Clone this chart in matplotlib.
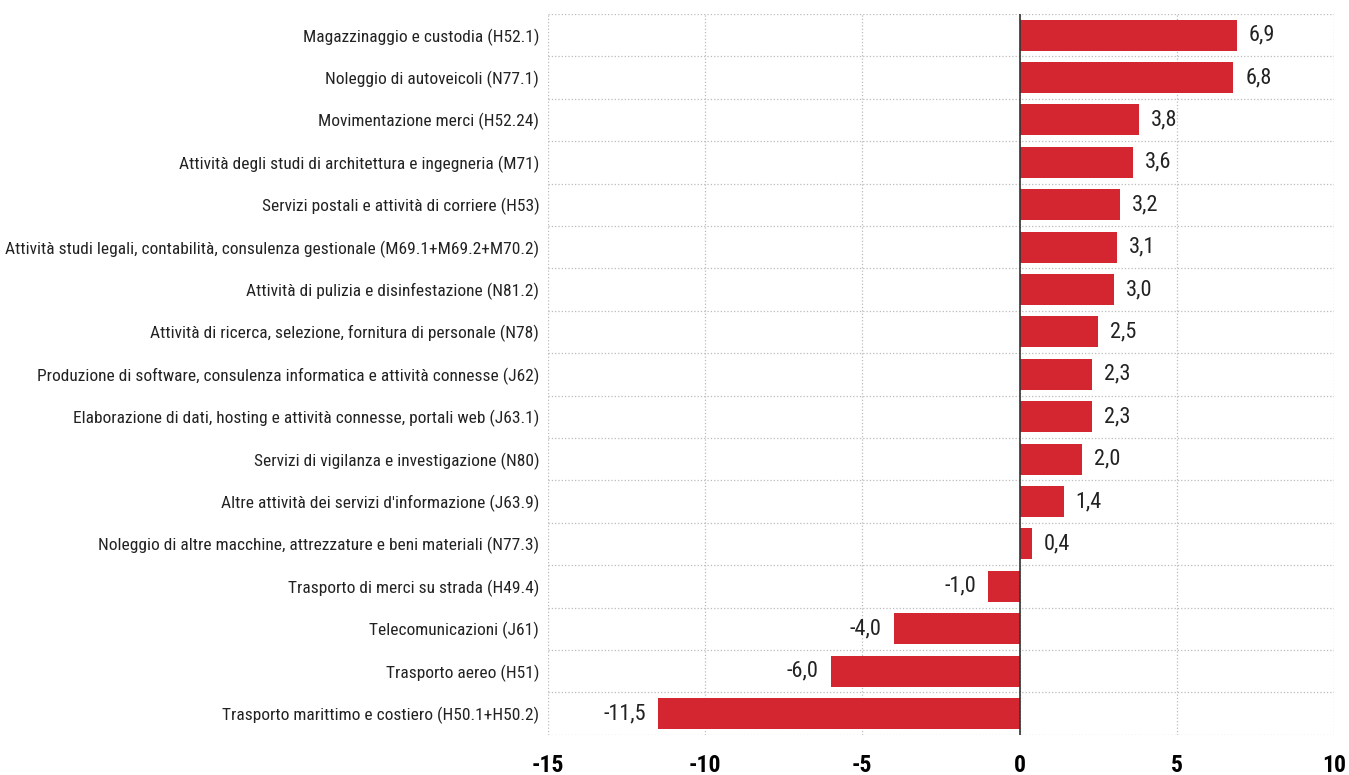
import matplotlib
matplotlib.use("Agg")
from matplotlib import pyplot as plt
from matplotlib import font_manager

categories = [
    "Magazzinaggio e custodia (H52.1)",
    "Noleggio di autoveicoli (N77.1)",
    "Movimentazione merci (H52.24)",
    "Attività degli studi di architettura e ingegneria (M71)",
    "Servizi postali e attività di corriere (H53)",
    "Attività studi legali, contabilità, consulenza gestionale (M69.1+M69.2+M70.2)",
    "Attività di pulizia e disinfestazione (N81.2)",
    "Attività di ricerca, selezione, fornitura di personale (N78)",
    "Produzione di software, consulenza informatica e attività connesse (J62)",
    "Elaborazione di dati, hosting e attività connesse, portali web (J63.1)",
    "Servizi di vigilanza e investigazione (N80)",
    "Altre attività dei servizi d'informazione (J63.9)",
    "Noleggio di altre macchine, attrezzature e beni materiali (N77.3)",
    "Trasporto di merci su strada (H49.4)",
    "Telecomunicazioni (J61)",
    "Trasporto aereo (H51)",
    "Trasporto marittimo e costiero (H50.1+H50.2)",
]
values = [6.9, 6.8, 3.8, 3.6, 3.2, 3.1, 3.0, 2.5, 2.3, 2.3, 2.0, 1.4, 0.4, -1.0, -4.0, -6.0, -11.5]
xticks = [-15, -10, -5, 0, 5, 10]

# look for a narrow font, else fall back to condensed DejaVu / plain
names = {f.name for f in font_manager.fontManager.ttflist}
fam = "DejaVu Sans"
for cand in ["Liberation Sans Narrow", "Roboto Condensed", "Open Sans Condensed", "Noto Sans Condensed"]:
    if cand in names:
        fam = cand
        break
plt.rcParams['font.family'] = [fam, 'DejaVu Sans']
plt.rcParams['font.stretch'] = 'condensed'

fig = plt.figure(figsize=(13.49, 7.75), dpi=100)
ax = fig.add_axes([0.406, 0.052, 0.583, 0.930])

n = len(categories)
ypos = list(range(n))
ax.barh(ypos, values, height=0.73, color="#d42630", zorder=3)

for y, v in zip(ypos, values):
    lbl = f"{v:.1f}".replace(".", ",")
    if v >= 0:
        ax.text(v + 0.38, y, lbl, ha="left", va="center", fontsize=16, color="#222222")
    else:
        ax.text(v - 0.38, y, lbl, ha="right", va="center", fontsize=16, color="#222222")

ax.set_xlim(-15, 10)
ax.set_ylim(n - 0.5, -0.5)
ax.set_xticks(xticks)
ax.set_xticklabels([str(t) for t in xticks], fontsize=17, fontweight="bold")
ax.set_yticks(ypos)
ylabels = ax.set_yticklabels(categories, fontsize=11.5, color="#222222")
ax.tick_params(axis="both", length=0)
ax.tick_params(axis="y", pad=6)
ax.tick_params(axis="x", pad=14)

# grid: vertical at ticks, horizontal between categories
for t in xticks:
    ax.axvline(t, color="#bbbbbb", linestyle=":", linewidth=0.9, zorder=1)
for b in [i - 0.5 for i in range(n + 1)]:
    ax.axhline(b, color="#bbbbbb", linestyle=":", linewidth=0.9, zorder=1)
ax.axvline(0, color="#333333", linewidth=1.2, zorder=4)

for s in ax.spines.values():
    s.set_visible(False)

# fit category labels to the left margin width of the reference
fig.canvas.draw()
r = fig.canvas.get_renderer()
widest = max(l.get_window_extent(r).width for l in ylabels)
k = 532.0 / widest
for l in ylabels:
    l.set_fontsize(11.5 * k)

fig.savefig("out.png", dpi=100)
